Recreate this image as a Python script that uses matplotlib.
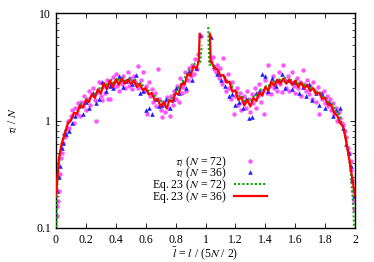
import numpy as np
import matplotlib
matplotlib.use("Agg")
import matplotlib.pyplot as plt

plt.rcParams['font.family'] = ['Liberation Serif', 'DejaVu Serif']
plt.rcParams['mathtext.fontset'] = 'stix'

nan = float('nan')

# Eq. 23 (N = 36) -- red solid
red_x = [0.00, 0.02, 0.04, 0.06, 0.08, 0.10, 0.12, 0.14, 0.16, 0.18, 0.20, 0.22, 0.24, 0.26, 0.28,
         0.30, 0.32, 0.34, 0.36, 0.38, 0.40, 0.42, 0.44, 0.46, 0.48, 0.50, 0.52, 0.54, 0.56, 0.58,
         0.60, 0.62, 0.64, 0.66, 0.68, 0.70, 0.72, 0.74, 0.76, 0.78, 0.80, 0.82, 0.84, 0.86, 0.88,
         0.90, 0.92, 0.94, 0.955, 0.961, 1.00, 1.029, 1.035, 1.04, 1.06, 1.08, 1.10, 1.12, 1.14, 1.16,
         1.18, 1.20, 1.22, 1.24, 1.26, 1.28, 1.30, 1.32, 1.34, 1.36, 1.38, 1.40, 1.42, 1.44, 1.46,
         1.48, 1.50, 1.52, 1.54, 1.56, 1.58, 1.60, 1.62, 1.64, 1.66, 1.68, 1.70, 1.72, 1.74, 1.76,
         1.78, 1.80, 1.82, 1.84, 1.86, 1.88, 1.90, 1.92, 1.94, 1.96, 1.98, 2.00]
red_y = [0.20, 0.45, 0.62, 0.76, 0.95, 1.00, 1.18, 1.15, 1.38, 1.32, 1.55, 1.48, 1.75, 1.62, 1.95,
         1.78, 2.25, 1.95, 2.35, 2.05, 2.40, 2.15, 2.45, 2.20, 2.40, 2.20, 2.35, 2.05, 2.20, 1.92,
         2.00, 1.75, 1.80, 1.55, 1.58, 1.35, 1.48, 1.30, 1.55, 1.48, 1.80, 1.75, 2.20, 2.15, 2.70,
         2.60, 3.20, 3.05, 3.60, 6.40, nan, 6.40, 3.50, 3.50, 3.05, 3.00, 2.60, 2.65, 2.25, 2.30,
         1.85, 1.90, 1.55, 1.65, 1.38, 1.55, 1.35, 1.62, 1.52, 1.82, 1.70, 2.05, 1.90, 2.30, 2.10,
         2.40, 2.20, 2.45, 2.20, 2.40, 2.15, 2.35, 2.05, 2.25, 1.98, 2.15, 1.88, 2.00, 1.75, 1.82,
         1.60, 1.62, 1.40, 1.40, 1.18, 1.12, 0.95, 0.88, 0.65, 0.45, 0.30, 0.20]

# Eq. 23 (N = 72) -- green dotted
green_x = [0.00, 0.01, 0.03, 0.05, 0.07, 0.09, 0.11, 0.13, 0.15, 0.17, 0.19, 0.21, 0.23, 0.25, 0.27,
           0.29, 0.31, 0.33, 0.35, 0.37, 0.39, 0.41, 0.43, 0.45, 0.47, 0.49, 0.51, 0.53, 0.55, 0.57,
           0.59, 0.61, 0.63, 0.65, 0.67, 0.69, 0.71, 0.73, 0.75, 0.77, 0.79, 0.81, 0.83, 0.85, 0.87,
           0.89, 0.91, 0.93, 0.95, 0.965, 0.975, 1.00, 1.018, 1.025, 1.05, 1.07, 1.09, 1.11, 1.13,
           1.15, 1.17, 1.19, 1.21, 1.23, 1.25, 1.27, 1.29, 1.31, 1.33, 1.35, 1.37, 1.39, 1.41, 1.43,
           1.45, 1.47, 1.49, 1.51, 1.53, 1.55, 1.57, 1.59, 1.61, 1.63, 1.65, 1.67, 1.69, 1.71, 1.73,
           1.75, 1.77, 1.79, 1.81, 1.83, 1.85, 1.87, 1.89, 1.91, 1.93, 1.95, 1.97, 1.99, 2.00]
green_y = [0.05, 0.28, 0.55, 0.72, 0.85, 1.00, 1.05, 1.22, 1.22, 1.45, 1.45, 1.62, 1.62, 1.80, 1.75,
           2.00, 1.95, 2.25, 2.10, 2.40, 2.15, 2.50, 2.25, 2.50, 2.25, 2.45, 2.25, 2.40, 2.15, 2.25,
           2.00, 1.95, 1.85, 1.75, 1.65, 1.55, 1.50, 1.45, 1.55, 1.60, 1.75, 1.95, 2.10, 2.40, 2.60,
           2.95, 3.10, 3.40, 3.50, 3.40, 5.00, nan, 7.40, 3.30, 3.30, 3.05, 2.85, 2.60, 2.55, 2.25,
           2.20, 1.90, 1.85, 1.65, 1.65, 1.50, 1.60, 1.55, 1.75, 1.70, 1.95, 1.90, 2.15, 2.10, 2.35,
           2.25, 2.45, 2.30, 2.50, 2.30, 2.40, 2.20, 2.35, 2.15, 2.25, 2.05, 2.10, 1.95, 1.95, 1.80,
           1.80, 1.65, 1.60, 1.45, 1.42, 1.22, 1.18, 0.95, 0.82, 0.55, 0.35, 0.15, 0.05]

# tau_l (N = 72) -- magenta circles
mag_x = [0.005, 0.01, 0.015, 0.02, 0.03, 0.035, 0.04, 0.05, 0.055, 0.06, 0.07, 0.08, 0.09, 0.10, 0.11,
         0.12, 0.13, 0.14, 0.15, 0.16, 0.17, 0.18, 0.19, 0.20, 0.21, 0.22, 0.23, 0.24, 0.25, 0.26,
         0.27, 0.28, 0.29, 0.30, 0.31, 0.32, 0.33, 0.34, 0.35, 0.36, 0.37, 0.38, 0.39, 0.40, 0.41,
         0.42, 0.43, 0.44, 0.45, 0.46, 0.47, 0.48, 0.49, 0.50, 0.51, 0.52, 0.53, 0.546, 0.55, 0.57,
         0.58, 0.59, 0.60, 0.61, 0.62, 0.63, 0.64, 0.65, 0.66, 0.67, 0.68, 0.69, 0.70, 0.71, 0.72,
         0.73, 0.74, 0.75, 0.76, 0.77, 0.78, 0.79, 0.80, 0.81, 0.82, 0.83, 0.84, 0.85, 0.86, 0.87,
         0.88, 0.89, 0.90, 0.91, 0.92, 0.93, 0.94, 0.95, 0.97,
         1.04, 1.05, 1.06, 1.07, 1.08, 1.09, 1.10, 1.11, 1.12, 1.13, 1.14, 1.15, 1.16, 1.17, 1.18,
         1.19, 1.20, 1.21, 1.22, 1.23, 1.24, 1.25, 1.26, 1.27, 1.28, 1.29, 1.30, 1.31, 1.32, 1.33,
         1.34, 1.35, 1.36, 1.37, 1.38, 1.39, 1.40, 1.41, 1.42, 1.43, 1.44, 1.45, 1.46, 1.47, 1.48,
         1.49, 1.50, 1.51, 1.52, 1.53, 1.54, 1.55, 1.56, 1.57, 1.58, 1.59, 1.60, 1.61, 1.62, 1.63,
         1.64, 1.65, 1.66, 1.67, 1.68, 1.69, 1.70, 1.71, 1.72, 1.73, 1.74, 1.75, 1.76, 1.77, 1.78,
         1.79, 1.80, 1.81, 1.82, 1.83, 1.84, 1.85, 1.86, 1.87, 1.88, 1.89, 1.90, 1.91, 1.92, 1.93,
         1.94, 1.95, 1.96, 1.97, 1.975, 1.98, 1.985, 1.99, 1.995]
mag_y = [0.13, 0.16, 0.18, 0.22, 0.32, 0.45, 0.50, 0.62, 0.75, 0.70, 0.82, 1.00, 0.85, 1.10, 1.25,
         0.95, 1.30, 1.15, 1.45, 1.10, 1.50, 1.35, 1.70, 1.25, 1.60, 1.90, 1.40, 1.75, 2.00, 1.55,
         0.98, 1.85, 2.30, 1.70, 1.55, 2.10, 1.80, 2.40, 1.60, 1.57, 2.20, 2.55, 2.05, 2.70, 2.10,
         1.90, 2.50, 2.20, 2.60, 2.00, 2.35, 2.80, 2.10, 2.50, 1.95, 2.60, 2.30, 3.20, 2.00, 2.40,
         2.85, 1.90, 2.10, 1.14, 2.30, 1.70, 1.95, 1.50, 1.80, 1.35, 3.00, 1.60, 1.25, 1.07, 1.50,
         1.20, 1.65, 1.30, 1.10, 1.70, 1.40, 1.90, 1.60, 2.10, 1.50, 2.50, 1.80, 2.05, 2.80, 1.90,
         2.40, 3.10, 2.60, 3.30, 2.70, 3.70, 3.00, 4.20, 6.10,
         3.60, 3.90, 3.00, 2.80, 3.30, 2.50, 3.10, 2.20, 3.80, 2.40, 1.90, 2.70, 2.00, 1.60, 2.30,
         1.14, 1.70, 2.00, 1.40, 1.80, 1.25, 1.50, 1.70, 1.30, 1.90, 1.60, 1.20, 1.75, 1.45, 2.00,
         1.30, 1.70, 2.20, 1.50, 1.90, 1.14, 2.40, 1.80, 3.30, 2.10, 1.75, 2.60, 2.00, 2.30, 1.90,
         2.80, 2.20, 1.85, 3.27, 2.40, 2.00, 2.60, 1.90, 2.30, 2.80, 2.10, 1.80, 2.50, 2.00, 2.30,
         1.70, 2.94, 2.20, 1.90, 2.40, 1.75, 2.10, 1.60, 2.30, 1.90, 1.50, 2.05, 1.14, 1.80, 1.60,
         1.90, 1.45, 1.70, 1.35, 1.60, 1.25, 1.45, 1.15, 1.30, 1.00, 1.20, 1.05, 0.95, 0.90, 0.80,
         0.70, 0.55, 0.50, 0.42, 0.35, 0.28, 0.22, 0.18, 0.15]

# tau_l (N = 36) -- blue triangles
blue_x = [0.01, 0.02, 0.03, 0.04, 0.05, 0.07, 0.09, 0.11, 0.13, 0.155, 0.18, 0.20, 0.22, 0.245, 0.27,
          0.29, 0.31, 0.335, 0.36, 0.38, 0.40, 0.42, 0.445, 0.47, 0.49, 0.51, 0.535, 0.56, 0.58, 0.60,
          0.62, 0.645, 0.67, 0.69, 0.71, 0.735, 0.76, 0.78, 0.80, 0.825, 0.85, 0.87, 0.89, 0.91, 0.935,
          0.96, 1.04, 1.06, 1.08, 1.105, 1.13, 1.155, 1.18, 1.20, 1.225, 1.25, 1.27, 1.29, 1.31, 1.335,
          1.36, 1.38, 1.40, 1.42, 1.445, 1.47, 1.49, 1.51, 1.535, 1.56, 1.58, 1.60, 1.625, 1.65, 1.67,
          1.69, 1.715, 1.74, 1.76, 1.78, 1.80, 1.825, 1.85, 1.87, 1.90, 1.92, 1.94, 1.96, 1.97, 1.98, 1.99]
blue_y = [0.22, 0.30, 0.38, 0.55, 0.62, 0.75, 0.80, 0.95, 1.10, 1.35, 1.15, 1.50, 1.30, 1.80, 1.45,
          1.60, 2.30, 1.90, 2.10, 2.00, 2.40, 2.60, 2.05, 2.35, 2.50, 2.20, 2.65, 1.80, 1.90, 1.25,
          1.30, 1.15, 1.60, 1.35, 1.40, 1.60, 1.30, 1.60, 2.00, 1.80, 2.30, 2.00, 2.90, 2.40, 3.10,
          6.30, 6.00, 3.20, 2.70, 2.40, 2.10, 1.70, 1.75, 1.40, 1.50, 1.30, 1.60, 1.05, 1.07, 1.80,
          1.90, 2.70, 2.60, 1.90, 2.50, 2.10, 2.40, 2.70, 2.00, 2.40, 1.95, 2.30, 1.80, 2.05, 1.70,
          2.20, 1.55, 1.80, 1.40, 1.75, 1.30, 1.50, 1.10, 1.25, 1.32, 0.85, 0.60, 0.50, 0.38, 0.28, 0.20]

x_ticks = [0, 0.2, 0.4, 0.6, 0.8, 1, 1.2, 1.4, 1.6, 1.8, 2]
x_tick_labels = ['0', '0.2', '0.4', '0.6', '0.8', '1', '1.2', '1.4', '1.6', '1.8', '2']
y_ticks = [0.1, 1, 10]
y_tick_labels = ['0.1', '1', '10']

fig = plt.figure(figsize=(3.74, 2.62), dpi=100)
ax = fig.add_axes([56/374, 34/262, 299/374, 215/262])

ax.plot(mag_x, mag_y, linestyle='none', marker='o', markersize=3.2, color='#ff55ff',
        markeredgewidth=0, label=r'$\tau_l$ ($N$ = 72)', zorder=2)
ax.plot(blue_x, blue_y, linestyle='none', marker='^', markersize=3.3, color='#2020ff',
        markeredgewidth=0, label=r'$\tau_l$ ($N$ = 36)', zorder=2)
ax.plot(green_x, green_y, linestyle=(0, (1, 1)), linewidth=1.5, color='#00b000',
        label=r'Eq. 23 ($N$ = 72)', zorder=3)
ax.plot(red_x, red_y, linestyle='-', linewidth=1.6, color='#ff0000',
        label=r'Eq. 23 ($N$ = 36)', zorder=4)

ax.set_yscale('log')
ax.set_xlim(0, 2)
ax.set_ylim(0.1, 10)
ax.set_xticks(x_ticks)
ax.set_xticklabels(x_tick_labels)
ax.set_yticks(y_ticks)
ax.set_yticklabels(y_tick_labels)
ax.tick_params(which='both', direction='in', top=True, right=True, labelsize=8.5)
ax.tick_params(which='major', length=3.5, width=0.6)
ax.tick_params(which='minor', length=2, width=0.5)
ax.tick_params(axis='x', pad=4)
ax.yaxis.set_minor_locator(matplotlib.ticker.LogLocator(base=10, subs=np.arange(2, 10)))
ax.yaxis.set_minor_formatter(matplotlib.ticker.NullFormatter())
for s in ax.spines.values():
    s.set_linewidth(1.0)

ax.set_xlabel(r'$\bar{l}$ = $l$ / (5$N$ / 2)', fontsize=8.5, labelpad=0)
ax.set_ylabel(r'$\tau_l$ / $N$', fontsize=8.5, labelpad=12)

leg = ax.legend(loc='center right', bbox_to_anchor=(0.705, 0.225), frameon=False,
                markerfirst=False, fontsize=8.5, handlelength=2.8, handletextpad=0.6,
                labelspacing=-0.35, borderpad=0, borderaxespad=0, numpoints=1)
for t in leg.get_texts():
    t.set_ha('right')
leg._legend_box.align = 'right'

fig.savefig('out.png', dpi=100)
